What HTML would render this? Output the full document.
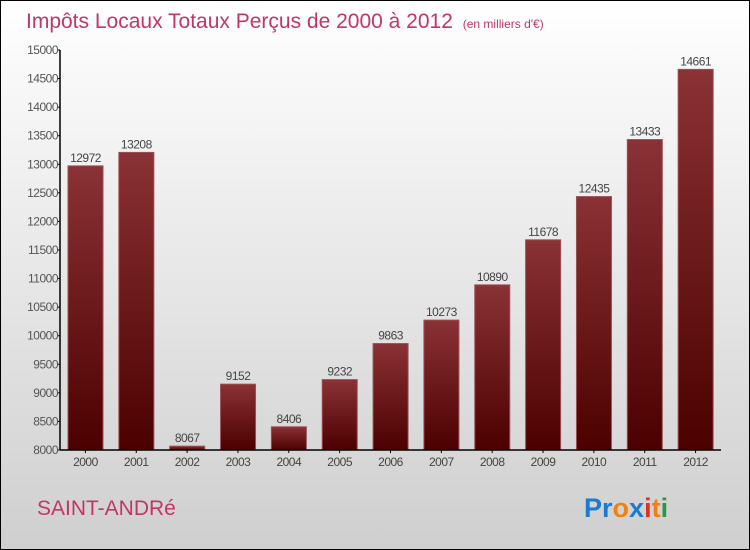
<!DOCTYPE html>
<html><head><meta charset="utf-8"><style>
html,body{margin:0;padding:0}
body{width:750px;height:550px;overflow:hidden;font-family:"Liberation Sans",sans-serif}
#wrap{position:relative;width:748px;height:548px;border:1px solid #000;background:linear-gradient(#ffffff,#cfcfcf)}
</style></head><body>
<div id="wrap">
<svg id="chart" width="748" height="548" style="position:absolute;left:0;top:0">
<defs>
<linearGradient id="bg" x1="0" y1="0" x2="0" y2="1"><stop offset="0" stop-color="#8a3236"/><stop offset="1" stop-color="#4c0000"/></linearGradient>
</defs>
<text x="25" y="27" font-size="21" fill="#c43564">Impôts Locaux Totaux Perçus de 2000 à 2012 <tspan font-size="12" dx="4">(en milliers d'€)</tspan></text>
<g id="yaxis"></g><g id="bars"></g><g id="xaxis"></g>
<text x="36" y="514" font-size="21" fill="#c43564">SAINT-ANDRé</text>
<g font-size="27" font-weight="bold" font-family="'Liberation Sans',sans-serif">
<text x="583" y="516"><tspan fill="#1a7bd0">Pr</tspan><tspan fill="#f08010">o</tspan><tspan fill="#1a7bd0">x</tspan><tspan fill="#e03020">i</tspan><tspan fill="#f08010">t</tspan><tspan fill="#2a9a40">i</tspan></text>
</g>
</svg>
</div>
<script>
const years=["2000","2001","2002","2003","2004","2005","2006","2007","2008","2009","2010","2011","2012"];
const values=[12972,13208,8067,9152,8406,9232,9863,10273,10890,11678,12435,13433,14661];
const yTicks=[8000,8500,9000,9500,10000,10500,11000,11500,12000,12500,13000,13500,14000,14500,15000];
const NS="http://www.w3.org/2000/svg";
const X0=59,X1=720,Y0=449,Y1=49,VMIN=8000,VMAX=15000;
const band=(X1-X0)/years.length;
const y=v=>Y0-(v-VMIN)/(VMAX-VMIN)*(Y0-Y1);
const x=i=>X0+i*band;
function mk(tag,attrs,parent){const e=document.createElementNS(NS,tag);for(const k in attrs)e.setAttribute(k,attrs[k]);parent.appendChild(e);return e;}
const ya=document.getElementById('yaxis'),ba=document.getElementById('bars'),xa=document.getElementById('xaxis');
let l=mk('line',{x1:X0,x2:X0,y1:Y1,y2:Y0,stroke:'#000','stroke-width':1.5},ya);


yTicks.forEach(t=>{
  const tk=mk('line',{x1:X0-3,x2:X0,y1:y(t),y2:y(t),stroke:'#000'},ya);
  
  
  const tx=mk('text',{x:X0-2,y:y(t)+4,'text-anchor':'end','font-size':12,fill:'#555','letter-spacing':'-0.5'},ya);
  tx.textContent=t;
  
  
});
values.forEach((v,i)=>{
  const bx=x(i)+8,bw=35;
  const r=mk('rect',{x:bx,y:y(v),width:bw,height:Y0-y(v),fill:'url(#bg)',stroke:'#9a5055','stroke-width':1},ba);
  
  
  const t=mk('text',{x:bx+bw/2,y:y(v)-4,'text-anchor':'middle','font-size':12,fill:'#444','letter-spacing':'-0.5'},ba);
  t.textContent=v;
  
  
  const tk=mk('line',{x1:x(i)+band/2,x2:x(i)+band/2,y1:Y0,y2:Y0+3,stroke:'#000'},xa);
  
  
  const xl=mk('text',{x:x(i)+band/2,y:Y0+16,'text-anchor':'middle','font-size':12,fill:'#444','letter-spacing':'-0.5'},xa);
  xl.textContent=years[i];
  
  
});
const xl=mk('line',{x1:X0,x2:X1,y1:Y0,y2:Y0,stroke:'#000','stroke-width':1.5},xa);


</script>
</body></html>
